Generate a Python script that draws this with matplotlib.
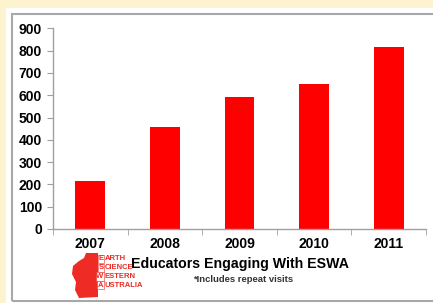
import matplotlib.pyplot as plt
from matplotlib.patches import Rectangle, Polygon

years = ["2007", "2008", "2009", "2010", "2011"]
educators = [217, 456, 592, 650, 815]
yticks = [0, 100, 200, 300, 400, 500, 600, 700, 800, 900]
title = "Educators Engaging With ESWA"
note = "*Includes repeat visits"
logo_words = ["ARTH", "CIENCE", "ESTERN", "USTRALIA"]
logo_caps = ["E", "S", "W", "A"]

W, H = 433, 303
yellow = "#fdf3cf"
fig = plt.figure(figsize=(W / 100, H / 100), dpi=100)
fig.patch.set_facecolor("white")
plt.rcParams["font.family"] = "Liberation Sans"


def fx(px):
    return px / W


def fy(py):
    return 1 - py / H


# yellow page border, then gray frame of the slide
fig.patches.append(Rectangle((0, fy(8)), 1, 1, transform=fig.transFigure,
                             facecolor=yellow, edgecolor="none", zorder=-2))
fig.patches.append(Rectangle((0, 0), fx(6), 1, transform=fig.transFigure,
                             facecolor=yellow, edgecolor="none", zorder=-2))
fig.patches.append(Rectangle((fx(12), fy(301)), 1, fy(14) - fy(301), transform=fig.transFigure,
                             facecolor="none", edgecolor="#a8a8a8", linewidth=1.5, zorder=-1))

ax = fig.add_axes([fx(53), fy(229), fx(426) - fx(53), fy(28.3) - fy(229)])
ax.set_zorder(2)
ax.set_facecolor("none")
x = range(len(years))
ax.bar(x, educators, width=0.4, color="#ff0000", zorder=2)
ax.set_xlim(-0.5, len(years) - 0.5)
ax.set_ylim(0, 900)
ax.set_yticks(yticks)
ax.set_yticklabels([str(v) for v in yticks], fontsize=10, fontweight="bold")
ax.set_xticks(list(x))
ax.set_xticklabels(years, fontsize=10, fontweight="bold")
ax.tick_params(axis="x", length=0, pad=6)
ax.set_xticks([i - 0.5 for i in range(len(years) + 1)], minor=True)
ax.tick_params(axis="x", which="minor", length=4, color="#a0a0a0", direction="out")
ax.tick_params(axis="y", length=4, color="#a0a0a0", direction="out", pad=4)
for s in ["top", "right"]:
    ax.spines[s].set_visible(False)
for s in ["left", "bottom"]:
    ax.spines[s].set_color("#a0a0a0")
    ax.spines[s].set_linewidth(1)

fig.text(fx(240), fy(264), title, ha="center", va="center", fontsize=10.2, fontweight="bold")
fig.text(fx(243), fy(279), note, ha="center", va="center", fontsize=6.8, fontweight="bold",
         color="#333333")

# logo: rough outline of Western Australia
red = "#ee2b24"
shape = [(86, 253), (98, 253), (98, 297), (79, 298), (75, 290), (76, 282), (72, 274),
         (73, 266), (79, 261), (84, 258)]
fig.patches.append(Polygon([(fx(a), fy(b)) for a, b in shape], closed=True,
                           transform=fig.transFigure, facecolor=red, edgecolor="none"))
for i, (c, w) in enumerate(zip(logo_caps, logo_words)):
    yy = 259 + i * 8.7
    fig.text(fx(103.5), fy(yy), c, ha="right", va="center", fontsize=5.5, fontweight="bold",
             color=red, bbox=dict(boxstyle="square,pad=0.08", fc="white", ec=red, lw=0.4))
    fig.text(fx(104.5), fy(yy), w, ha="left", va="center", fontsize=5.5, fontweight="bold",
             color=red)

fig.savefig("out.png", dpi=100, facecolor=fig.get_facecolor())
